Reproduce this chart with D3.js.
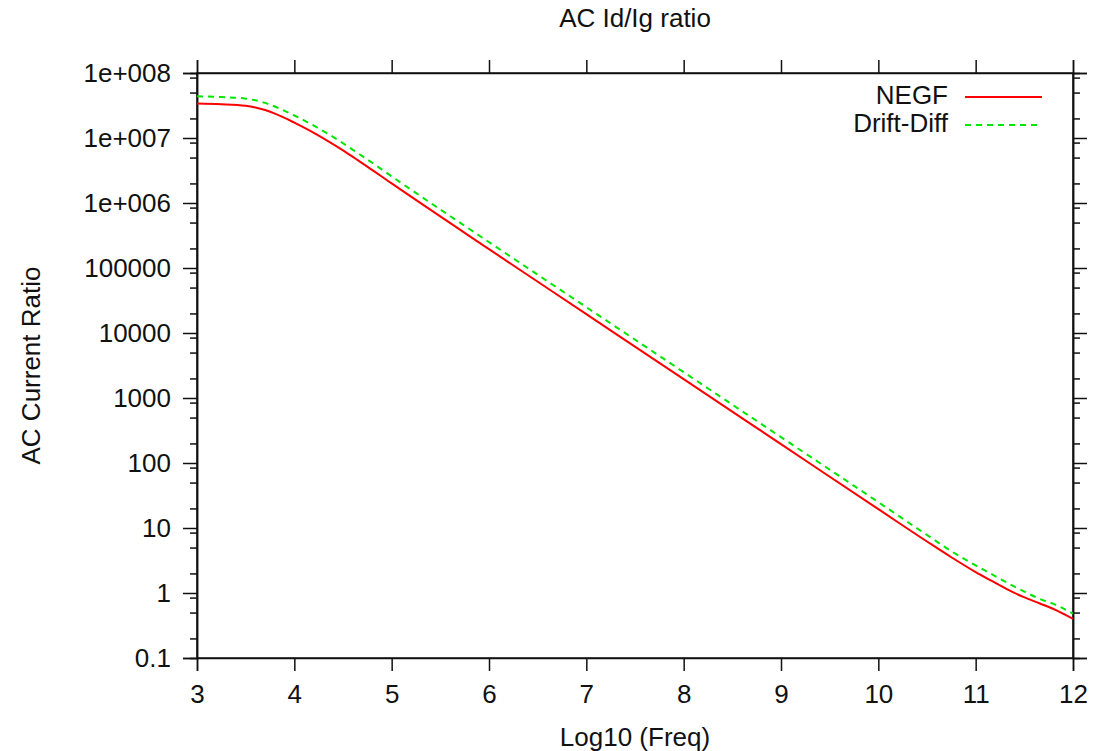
<!DOCTYPE html>
<html>
<head>
<meta charset="utf-8">
<script src="https://cdn.jsdelivr.net/npm/d3@7"></script>
<style>
  html, body { margin: 0; padding: 0; background: #fff; }
  svg { display: block; }
  text { font-family: "Liberation Sans", Arial, sans-serif; fill: #111; }
</style>
</head>
<body>
<svg id="chart" width="1093" height="751"></svg>
<script>
// ---- data ----
const freqLog = [3.0, 3.25, 3.5, 3.6, 3.7, 3.8, 3.9, 4.0, 4.2, 4.35, 4.5, 4.63, 4.75, 5, 6, 7, 8, 9, 10, 10.5, 10.75, 11.0, 11.15, 11.32, 11.49, 11.66, 11.83, 12];
const negf = [3.39e7, 3.31e7, 3.13e7, 2.95e7, 2.69e7, 2.37e7, 2.04e7, 1.72e7, 1.20e7, 8.9e6, 6.46e6, 4.79e6, 3.63e6, 2.0e6, 1.95e5, 1.95e4, 1950, 195, 19.5, 6.2, 3.55, 2.1, 1.58, 1.15, 0.87, 0.69, 0.54, 0.40];
const driftDiff = [4.37e7, 4.27e7, 4.03e7, 3.80e7, 3.47e7, 3.05e7, 2.62e7, 2.22e7, 1.55e7, 1.15e7, 8.3e6, 6.17e6, 4.68e6, 2.57e6, 2.5e5, 2.5e4, 2500, 250, 25, 7.8, 4.4, 2.65, 2.0, 1.45, 1.07, 0.81, 0.65, 0.48];
const xTicks = [3, 4, 5, 6, 7, 8, 9, 10, 11, 12];
const yTicks = [1e8, 1e7, 1e6, 1e5, 1e4, 1000, 100, 10, 1, 0.1];
const yTickLabels = ["1e+008", "1e+007", "1e+006", "100000", "10000", "1000", "100", "10", "1", "0.1"];
const minorMultipliers = [2, 5, 8.5];
const seriesNames = ["NEGF", "Drift-Diff"];
const seriesColors = ["#ff0000", "#00e600"];

// ---- layout ----
const svg = d3.select("#chart");
const pL = 197, pR = 1073, pT = 73, pB = 658;
const FS = 26;
const x = d3.scaleLinear().domain([3, 12]).range([pL, pR]);
const y = d3.scaleLog().domain([0.1, 1e8]).range([pB, pT]);

const minorTicks = [];
yTicks.forEach(t => { if (t < 1e8) minorMultipliers.forEach(m => minorTicks.push(t * m)); });

const axisStyle = g => {
  g.selectAll(".domain").attr("stroke", "#111").attr("stroke-width", 1.5);
  g.selectAll(".tick line").attr("stroke", "#111").attr("stroke-width", 1.5);
  g.selectAll(".tick text").attr("font-size", FS).attr("fill", "#111")
    .attr("font-family", "'Liberation Sans', Arial, sans-serif");
};

// bottom axis
svg.append("g").attr("transform", `translate(0,${pB})`)
  .call(d3.axisBottom(x).tickValues(xTicks).tickFormat(d3.format("d")).tickSizeOuter(0).tickSize(13).tickPadding(14))
  .call(axisStyle);
// top axis (ticks only)
svg.append("g").attr("transform", `translate(0,${pT})`)
  .call(d3.axisTop(x).tickValues(xTicks).tickFormat("").tickSizeOuter(0).tickSize(13))
  .call(axisStyle);
// left axis
svg.append("g").attr("transform", `translate(${pL},0)`)
  .call(d3.axisLeft(y).tickValues(yTicks).tickFormat((d, i) => yTickLabels[i]).tickSizeOuter(0).tickSize(14).tickPadding(12))
  .call(axisStyle);
svg.append("g").attr("transform", `translate(${pL},0)`)
  .call(d3.axisLeft(y).tickValues(minorTicks).tickFormat("").tickSizeOuter(0).tickSize(7))
  .call(axisStyle);
// right axis
svg.append("g").attr("transform", `translate(${pR},0)`)
  .call(d3.axisRight(y).tickValues(yTicks).tickFormat("").tickSizeOuter(0).tickSize(14))
  .call(axisStyle);
svg.append("g").attr("transform", `translate(${pR},0)`)
  .call(d3.axisRight(y).tickValues(minorTicks).tickFormat("").tickSizeOuter(0).tickSize(7))
  .call(axisStyle);

// frame
svg.append("rect").attr("x", pL).attr("y", pT).attr("width", pR - pL).attr("height", pB - pT)
  .attr("fill", "none").attr("stroke", "#111").attr("stroke-width", 1.5);

// lines
svg.append("clipPath").attr("id", "clip").append("rect")
  .attr("x", pL).attr("y", pT).attr("width", pR - pL).attr("height", pB - pT);
const line = d3.line().x(d => x(d[0])).y(d => y(d[1])).curve(d3.curveMonotoneX);
const series = [negf, driftDiff];
series.forEach((vals, i) => {
  svg.append("path")
    .datum(freqLog.map((f, j) => [f, vals[j]]))
    .attr("clip-path", "url(#clip)")
    .attr("fill", "none")
    .attr("stroke", seriesColors[i])
    .attr("stroke-width", 2)
    .attr("stroke-dasharray", i === 1 ? "6,5" : null)
    .attr("d", line);
});

// legend
const legY = [95, 123];
seriesNames.forEach((name, i) => {
  svg.append("text").attr("x", 948).attr("y", legY[i]).attr("text-anchor", "end")
    .attr("dominant-baseline", "central").attr("font-size", FS).text(name);
  svg.append("line").attr("x1", 965).attr("x2", 1042).attr("y1", legY[i] + 2).attr("y2", legY[i] + 2)
    .attr("stroke", seriesColors[i]).attr("stroke-width", 2)
    .attr("stroke-dasharray", i === 1 ? "6,5" : null);
});

// titles
svg.append("text").attr("x", (pL + pR) / 2).attr("y", 27).attr("text-anchor", "middle")
  .attr("font-size", FS).text("AC Id/Ig ratio");
svg.append("text").attr("x", (pL + pR) / 2).attr("y", 746).attr("text-anchor", "middle")
  .attr("font-size", FS).text("Log10 (Freq)");
svg.append("text").attr("transform", `translate(40,${(pT + pB) / 2}) rotate(-90)`)
  .attr("text-anchor", "middle").attr("font-size", FS).text("AC Current Ratio");
</script>
</body>
</html>
